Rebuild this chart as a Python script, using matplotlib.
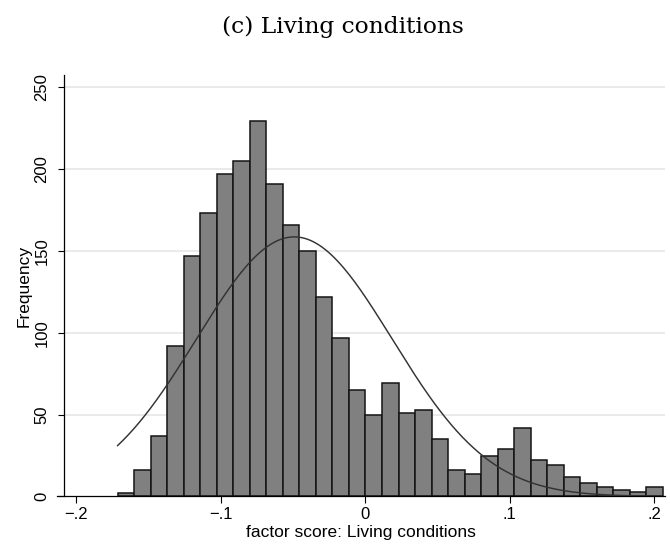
import numpy as np
import matplotlib
matplotlib.use('Agg')
import matplotlib.pyplot as plt

# bar counts, left to right
counts = [2, 16, 37, 92, 147, 173, 197, 205, 229, 191, 166,
          150, 122, 97, 65, 50, 69, 51, 53, 35, 16, 14,
          25, 29, 42, 22, 19, 12, 8, 6, 4, 3, 6]
bin_start = -0.1712
bin_end = 0.2060

# normal curve overlay (mean / sd)
curve_mean = -0.049
curve_sd = 0.0677

x_ticks = [-0.2, -0.1, 0, 0.1, 0.2]
x_tick_labels = ['\u2212.2', '\u2212.1', '0', '.1', '.2']
y_ticks = [0, 50, 100, 150, 200, 250]

n_bins = len(counts)
edges = np.linspace(bin_start, bin_end, n_bins + 1)
width = edges[1] - edges[0]
total = sum(counts)

plt.rcParams['font.family'] = ['Liberation Sans', 'DejaVu Sans']

fig = plt.figure(figsize=(6.7, 5.46), dpi=100)
ax = fig.add_axes([0.0851, 0.0907, 0.9074, 0.7719])

# horizontal grid
for yv in y_ticks[1:]:
    ax.hlines(yv, -0.208, 0.2095, color='#e6e6e6', linewidth=1.2, zorder=0)

ax.bar(edges[:-1], counts, width=width, align='edge', color='#808080',
       edgecolor='#141414', linewidth=1.1, zorder=2)

xs = np.linspace(bin_start, bin_end, 300)
ys = total * width / (curve_sd * np.sqrt(2 * np.pi)) * np.exp(-0.5 * ((xs - curve_mean) / curve_sd) ** 2)
ax.plot(xs, ys, color='#333333', linewidth=1.05, zorder=3)

ax.set_xlim(-0.2131, 0.2074)
ax.set_ylim(0, 257.3)

ax.spines['top'].set_visible(False)
ax.spines['right'].set_visible(False)
ax.spines['left'].set_position(('data', -0.208))
for s in ['left', 'bottom']:
    ax.spines[s].set_linewidth(0.9)

ax.set_xticks(x_ticks)
ax.set_xticklabels(x_tick_labels)
ax.set_yticks(y_ticks)
ax.tick_params(axis='x', length=4.7, width=0.8, pad=3.0, labelsize=12)
ax.tick_params(axis='y', length=4.3, width=0.8, pad=6.5, labelsize=12)
for lab in ax.get_yticklabels():
    lab.set_rotation(90)
    lab.set_va('center')
    lab.set_ha('right')

ax.set_xlabel('factor score: Living conditions', fontsize=12.5, labelpad=2)
ax.set_ylabel('Frequency', fontsize=12.5, labelpad=2)

fig.text(0.512, 0.95, '(c) Living conditions', ha='center', va='center',
         fontsize=16.8, family=['DejaVu Serif'])

fig.savefig('out.png', dpi=100)
